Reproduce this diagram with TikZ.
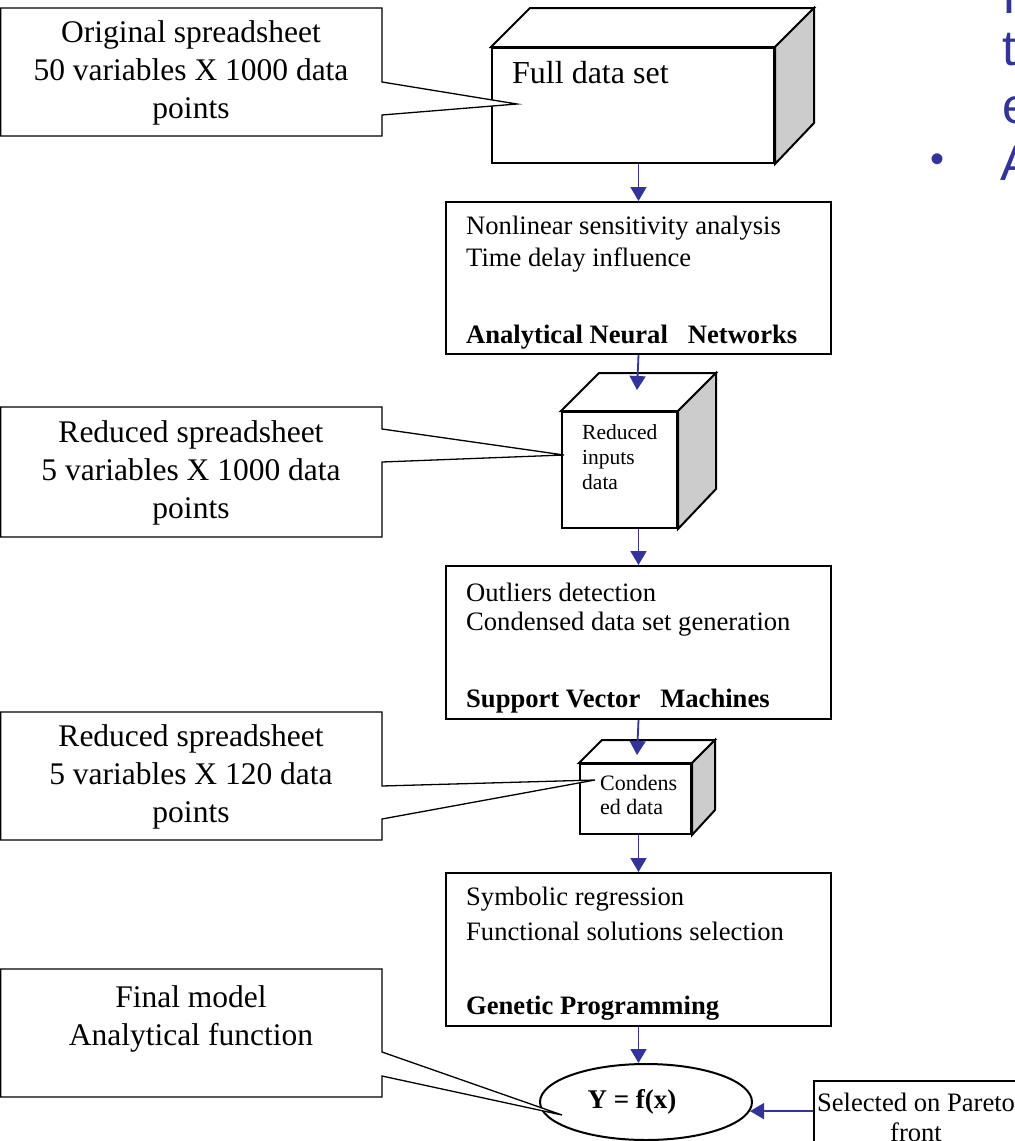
\documentclass[tikz,border=0pt]{standalone}
\usepackage{fontspec}
\setmainfont{Liberation Serif}
\newfontfamily\slidefont{Liberation Sans}
\usetikzlibrary{calc,arrows.meta,shapes.geometric}
\definecolor{flowblue}{HTML}{333399}
\definecolor{sidegray}{HTML}{CCCCCC}

\tikzset{
  frame/.style={draw=black, line width=2pt, fill=white, inner sep=0pt, anchor=north west},
  face/.style={draw=black, line width=2pt, line join=miter},
  flow/.style={draw=flowblue, line width=1.8pt, -{Triangle[length=14pt,width=16pt]}},
  callout/.style={draw=black, line width=1.3pt, fill=white, line join=miter},
  calltxt/.style={font=\fontsize{31.5}{38}\selectfont, align=center, inner sep=0pt},
  boxtxt/.style={font=\fontsize{26.6}{32}\selectfont, anchor=west, inner sep=0pt},
  boldtxt/.style={font=\bfseries\fontsize{26.6}{32}\selectfont, anchor=west, inner sep=0pt},
  cubetxt/.style={font=\fontsize{21.5}{25}\selectfont, align=left, anchor=west, inner sep=0pt},
  slidetxt/.style={text=flowblue, font=\slidefont\fontsize{50}{57}\selectfont, anchor=base west, inner sep=0pt},
  slidedot/.style={text=flowblue, font=\slidefont\fontsize{40}{40}\selectfont, inner sep=0pt}
}

\begin{document}
\begin{tikzpicture}[x=1pt,y=-1pt]
\useasboundingbox (0,0) rectangle (1015,1141);
\begin{scope}
\clip (0,0) rectangle (1015,1141);

% ---------- bullet text on the right ----------
\node[slidedot] (dot1) at (938,-5) {•};
\node[slidetxt] (w1) at (1002,13) {I};
\node[slidetxt] (w2) at (1002,65) {t};
\node[slidetxt] (w3) at (1002,123) {e};
\node[slidedot] (dot2) at (937,163) {•};
\node[slidetxt] (w4) at (1000,180) {A};

% ---------- full data set (cube) ----------
\node[frame, minimum width=282pt, minimum height=115pt] (c1) at (491,47) {};
\draw[face, fill=white] (c1.north west) -- ++(39,-39) -- ($(c1.north east)+(39,-39)$) -- (c1.north east) -- cycle;
\draw[face, fill=sidegray] (c1.north east) -- ++(39,-39) -- ++(0,115) -- (c1.south east) -- cycle;
\node[anchor=base west, inner sep=0pt, font=\fontsize{32}{38}\selectfont] (c1t) at (512,83) {Full data set};

% ---------- analytical neural networks ----------
\node[frame, minimum width=385pt, minimum height=152pt] (ann) at (445,201) {};
\node[boxtxt] (ann1) at (466,228) {Nonlinear sensitivity analysis};
\node[boxtxt] (ann2) at (466,260) {Time delay influence};
\node[boldtxt] (ann3) at (466,337) {Analytical Neural\hspace{20pt}Networks};

% ---------- reduced inputs (cube) ----------
\node[frame, minimum width=115pt, minimum height=116pt] (c2) at (561,411) {};
\draw[face, fill=white] (c2.north west) -- ++(38,-38) -- ($(c2.north east)+(38,-38)$) -- (c2.north east) -- cycle;
\draw[face, fill=sidegray] (c2.north east) -- ++(38,-38) -- ++(0,116) -- (c2.south east) -- cycle;
\node[cubetxt] (c2t) at (582,457) {Reduced\\inputs\\data};

% ---------- support vector machines ----------
\node[frame, minimum width=385pt, minimum height=153pt] (svm) at (445,565) {};
\node[boxtxt] (svm1) at (466,592) {Outliers detection};
\node[boxtxt] (svm2) at (466,624) {Condensed data set generation};
\node[boldtxt] (svm3) at (466,701) {Support Vector\hspace{20pt}Machines};

% ---------- condensed data (cube) ----------
\node[frame, minimum width=111pt, minimum height=70pt] (c3) at (579,763) {};
\draw[face, fill=white] (c3.north west) -- ++(23,-23) -- ($(c3.north east)+(23,-23)$) -- (c3.north east) -- cycle;
\draw[face, fill=sidegray] (c3.north east) -- ++(23,-23) -- ++(0,70) -- (c3.south east) -- cycle;
\node[cubetxt, font=\fontsize{22}{24}\selectfont] (c3t) at (600,795) {Condens\\ed data};

% ---------- genetic programming ----------
\node[frame, minimum width=385pt, minimum height=153pt] (gp) at (445,872) {};
\node[boxtxt] (gp1) at (466,899) {Symbolic regression};
\node[boxtxt] (gp2) at (466,931) {Functional solutions selection};
\node[boldtxt] (gp3) at (466,1008) {Genetic Programming};

% ---------- final model ----------
\node[draw=black, line width=2pt, ellipse, minimum width=212pt, minimum height=76pt, inner sep=0pt] (yf) at (646,1102) {};
\node[inner sep=0pt, font=\bfseries\fontsize{27}{32}\selectfont] (yft) at (632,1102) {Y = f(x)};

\node[draw=black, line width=2pt, fill=white, anchor=north west, minimum width=207pt, minimum height=80pt, inner sep=0pt] (par) at (813,1080) {};
\node[inner sep=0pt, align=center, font=\fontsize{26.6}{30}\selectfont] (part) at (916,1117) {Selected on Pareto\\front};

% ---------- connectors ----------
\coordinate (c2top) at (637,390);
\coordinate (c3top) at (637,755);
\draw[flow] (ann.north |- c1.south) -- (ann.north);
\draw[flow] (ann.south) -- (c2top);
\draw[flow] (svm.north |- c2.south) -- (svm.north);
\draw[flow] (svm.south) -- (c3top);
\draw[flow] (gp.north |- c3.south) -- (gp.north);
\draw[flow] (gp.south) -- (gp.south |- yf.north);
\draw[flow] (par.west |- yf.-5) -- (yf.-5);

% ---------- callouts ----------
\coordinate (tip1) at (517,104);
\coordinate (tip2) at (564,455);
\coordinate (tip3) at (595,780);
\coordinate (tip4) at (562,1115);

\draw[callout] (0.7,8) -- (382,8) -- (382,82) -- (tip1) -- (382,115) -- (382,136) -- (0.7,136) -- cycle;
\node[calltxt] (k1) at (191,73) {Original spreadsheet\\50 variables X 1000 data\\points};

\draw[callout] (0.7,407) -- (382,407) -- (382,429) -- (tip2) -- (382,462) -- (382,537) -- (0.7,537) -- cycle;
\node[calltxt] (k2) at (191,473) {Reduced spreadsheet\\5 variables X 1000 data\\points};

\draw[callout] (0.7,712) -- (382,712) -- (382,786) -- (tip3) -- (382,819) -- (382,840) -- (0.7,840) -- cycle;
\node[calltxt] (k3) at (191,777) {Reduced spreadsheet\\5 variables X 120 data\\points};

\draw[callout] (0.7,969) -- (382,969) -- (382,1052) -- (tip4) -- (382,1076) -- (382,1097) -- (0.7,1097) -- cycle;
\node[calltxt] (k4) at (191,1019) {Final model\\Analytical function};

\end{scope}
\end{tikzpicture}
\end{document}
